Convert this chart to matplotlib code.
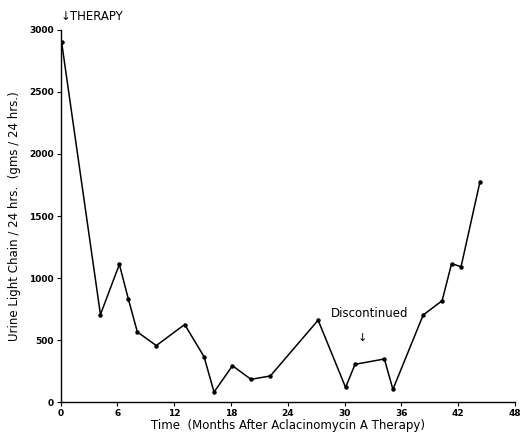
import matplotlib
matplotlib.use("Agg")
import matplotlib.pyplot as plt

months = [0.1, 4.2, 6.2, 7.15, 8.1, 10.1, 13.1, 15.15, 16.2, 18.15, 20.1, 22.15,
          27.2, 30.1, 31.1, 34.2, 35.1, 38.3, 40.3, 41.3, 42.3, 44.3]
light_chain = [2900, 705, 1110, 830, 565, 455, 625, 365, 80, 293, 183, 210,
               660, 118, 304, 347, 102, 702, 817, 1116, 1091, 1777]
x_ticks = [0, 6, 12, 18, 24, 30, 36, 42, 48]
y_ticks = [0, 500, 1000, 1500, 2000, 2500, 3000]

plt.rcParams['font.family'] = ['DejaVu Sans']
fig = plt.figure(figsize=(5.2, 4.32), dpi=100)
ax = fig.add_axes([0.1167, 0.0694, 0.8737, 0.8612])

ax.plot(months, light_chain, color='black', lw=1.1, marker='o', ms=2.2)
ax.set_xlim(0, 48)
ax.set_ylim(0, 3000)
ax.set_xticks(x_ticks)
ax.set_yticks(y_ticks)
ax.tick_params(axis='both', labelsize=6.5, length=3, width=0.8, pad=2)
for lbl in ax.get_xticklabels() + ax.get_yticklabels():
    lbl.set_fontweight('bold')
ax.spines['top'].set_visible(False)
ax.spines['right'].set_visible(False)
ax.spines['left'].set_linewidth(1.0)
ax.spines['bottom'].set_linewidth(1.0)

ax.set_xlabel('Time  (Months After Aclacinomycin A Therapy)', fontsize=8.5, labelpad=1)
ax.set_ylabel('Urine Light Chain / 24 hrs.  (gms / 24 hrs.)', fontsize=8.5, labelpad=6)

ax.text(0.0, 3060, '\u2193THERAPY', fontsize=8.5, ha='left', va='bottom', clip_on=False)
ax.text(32.6, 710, 'Discontinued', fontsize=8.5, ha='center', va='center')
ax.text(31.85, 515, '\u2193', fontsize=8, ha='center', va='center')

fig.savefig('out.png', dpi=100)
